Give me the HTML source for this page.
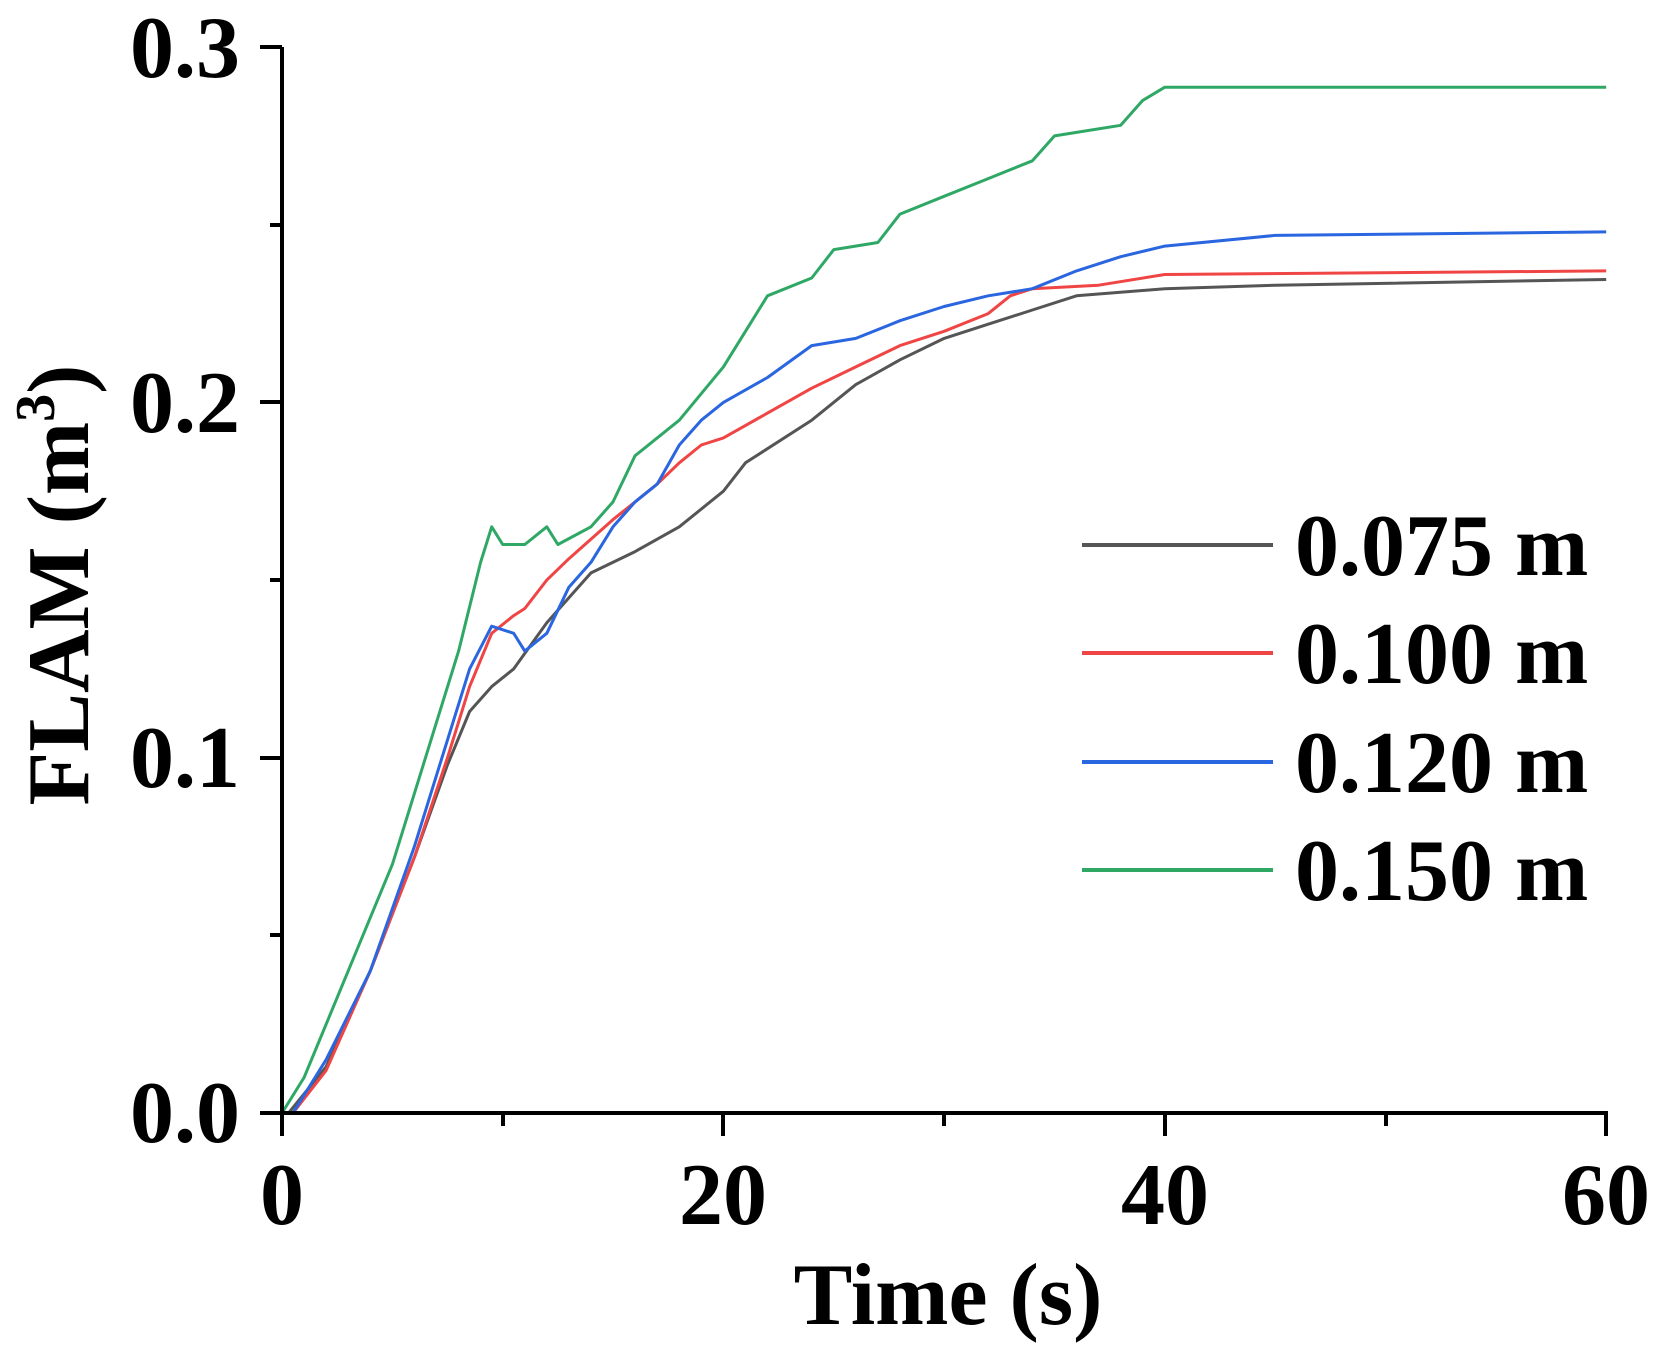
<!DOCTYPE html>
<html><head><meta charset="utf-8"><style>
html,body{margin:0;padding:0;background:#fff}
svg{display:block}
text{font-family:"Liberation Serif",serif;font-weight:bold;fill:#000}
</style></head><body>
<svg id="s" width="1663" height="1353" viewBox="0 0 1663 1353" xmlns="http://www.w3.org/2000/svg">
<g id="series" fill="none" stroke-width="3" stroke-linejoin="round"></g>
<g stroke="#000" stroke-width="4" fill="none">
<path d="M282,47 V1115 M260,47 H282 M260,402 H282 M260,758 H282 M260,1113 H282 M270,225 H282 M270,580 H282 M270,935 H282"/>
<path d="M280,1113 H1608 M282,1113 V1136 M723,1113 V1136 M1165,1113 V1136 M1606,1113 V1136 M503,1113 V1126 M944,1113 V1126 M1386,1113 V1126"/>
</g>
<g font-size="88" text-anchor="end">
<text x="240" y="432">0.2</text>
<text x="240" y="787">0.1</text>
<text x="240" y="1142">0.0</text>
<text x="240" y="77">0.3</text>
</g>
<g font-size="88" text-anchor="middle">
<text x="282" y="1224">0</text>
<text x="723" y="1224">20</text>
<text x="1165" y="1224">40</text>
<text x="1606" y="1224">60</text>
<text x="948" y="1324">Time (s)</text>
<text transform="translate(88,585) rotate(-90)">FLAM (m<tspan font-size="56" dy="-34">3</tspan><tspan dy="34">)</tspan></text>
</g>
<g stroke-width="4">
<line x1="1082" y1="545" x2="1273" y2="545" stroke="#555"/>
<line x1="1082" y1="653" x2="1273" y2="653" stroke="#f04545"/>
<line x1="1082" y1="762" x2="1273" y2="762" stroke="#2a66e0"/>
<line x1="1082" y1="870" x2="1273" y2="870" stroke="#2fa866"/>
</g>
<g font-size="88">
<text x="1295" y="575">0.075 m</text>
<text x="1295" y="683">0.100 m</text>
<text x="1295" y="792">0.120 m</text>
<text x="1295" y="900">0.150 m</text>
</g>
</svg>
<script>
var X=function(t){return 282+t*22.07},Y=function(v){return 1113-v*3553};
var S=[
["#555",[[0.3,0],[2,0.013],[4,0.04],[6,0.072],[7.5,0.098],[8.5,0.113],[9.5,0.12],[10.5,0.125],[12,0.138],[13,0.145],[14,0.152],[16,0.158],[18,0.165],[20,0.175],[21,0.183],[24,0.195],[26,0.205],[28,0.212],[30,0.218],[32,0.222],[34,0.226],[36,0.23],[40,0.232],[45,0.233],[60,0.2346]]],
["#f04545",[[0.5,0],[2,0.012],[4,0.04],[6,0.072],[7.5,0.1],[8.5,0.12],[9.5,0.135],[10.5,0.14],[11,0.142],[12,0.15],[13,0.156],[15,0.167],[16,0.172],[17,0.177],[18,0.183],[19,0.188],[20,0.19],[22,0.197],[24,0.204],[26,0.21],[28,0.216],[30,0.22],[32,0.225],[33,0.23],[34,0.232],[37,0.233],[40,0.236],[60,0.237]]],
["#2a66e0",[[0.5,0],[2,0.015],[4,0.04],[6,0.075],[7.5,0.105],[8.5,0.125],[9.5,0.137],[10.5,0.135],[11,0.13],[12,0.135],[13,0.148],[14,0.155],[15,0.165],[16,0.172],[17,0.177],[18,0.188],[19,0.195],[20,0.2],[22,0.207],[24,0.216],[26,0.218],[28,0.223],[30,0.227],[32,0.23],[34,0.232],[36,0.237],[38,0.241],[40,0.244],[45,0.247],[60,0.248]]],
["#2fa866",[[0,0],[1,0.01],[3,0.04],[5,0.07],[6.5,0.1],[8,0.13],[9,0.155],[9.5,0.165],[10,0.16],[11,0.16],[12,0.165],[12.5,0.16],[14,0.165],[15,0.172],[16,0.185],[18,0.195],[20,0.21],[21,0.22],[22,0.23],[24,0.235],[25,0.243],[27,0.245],[28,0.253],[30,0.258],[32,0.263],[34,0.268],[35,0.275],[38,0.278],[39,0.285],[40,0.2887],[60,0.2887]]]];
var g=document.getElementById("series"),h="";
S.forEach(function(s){h+='<polyline stroke="'+s[0]+'" points="'+s[1].map(function(p){return X(p[0]).toFixed(1)+","+Y(p[1]).toFixed(1)}).join(" ")+'"/>';});
g.innerHTML=h;
</script>
</body></html>
